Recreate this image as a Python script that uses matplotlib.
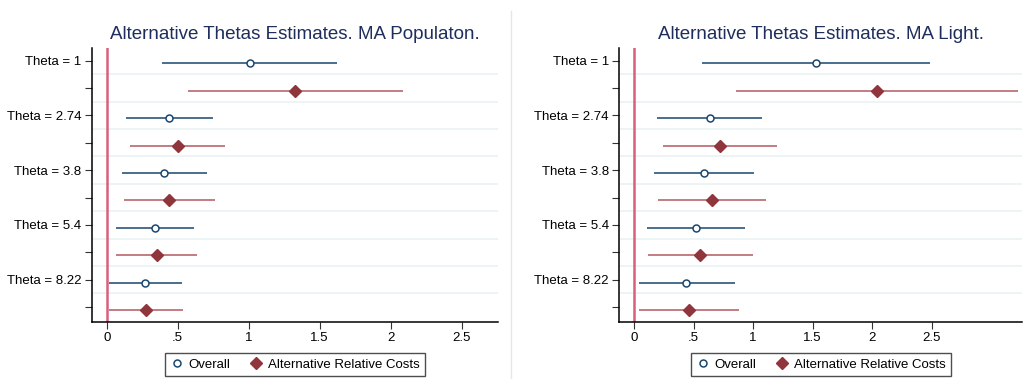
import matplotlib
matplotlib.use("Agg")
import matplotlib.pyplot as plt
from matplotlib.lines import Line2D
import numpy as np

plt.rcParams['font.family'] = ['Liberation Sans', 'DejaVu Sans']

theta_labels = ["Theta = 1", "Theta = 2.74", "Theta = 3.8", "Theta = 5.4", "Theta = 8.22"]

# MA Population: Overall and Alternative Relative Costs (estimate, lower, upper)
pop_overall = [1.009, 0.441, 0.404, 0.340, 0.272]
pop_overall_lo = [0.392, 0.136, 0.110, 0.063, 0.019]
pop_overall_hi = [1.624, 0.751, 0.704, 0.617, 0.533]
pop_arc = [1.326, 0.500, 0.441, 0.352, 0.275]
pop_arc_lo = [0.575, 0.164, 0.124, 0.065, 0.019]
pop_arc_hi = [2.085, 0.833, 0.763, 0.638, 0.535]

# MA Light
light_overall = [1.525, 0.635, 0.588, 0.521, 0.439]
light_overall_lo = [0.568, 0.196, 0.168, 0.106, 0.039]
light_overall_hi = [2.485, 1.077, 1.008, 0.935, 0.845]
light_arc = [2.038, 0.722, 0.652, 0.557, 0.459]
light_arc_lo = [0.854, 0.246, 0.199, 0.120, 0.039]
light_arc_hi = [3.227, 1.204, 1.105, 0.996, 0.879]

navy = "#1a476f"
maroon = "#90353b"
maroon_line = "#b3585f"
refline = "#d9607a"
grid_c = "#eaf2f3"
title_c = "#1e2d5c"

fig = plt.figure(figsize=(10.23, 3.79), dpi=100)
fig.patch.set_facecolor("white")


def panel(ax, title, ov, ov_lo, ov_hi, arc, arc_lo, arc_hi, xmin, xmax):
    n = len(ov)
    y_ov = np.arange(n) * 2 + 0.1
    y_arc = np.arange(n) * 2 + 1.1
    for i in range(9):
        ax.axhline(i + 0.5, color=grid_c, lw=1.2, zorder=0)
    ax.axvline(0, color=refline, lw=1.8, zorder=1)
    ax.hlines(y_ov, ov_lo, ov_hi, color=navy, lw=1.1, zorder=2)
    ax.hlines(y_arc, arc_lo, arc_hi, color=maroon_line, lw=1.1, zorder=2)
    ax.plot(ov, y_ov, "o", ms=5, mfc="white", mec=navy, mew=1.1, ls="none", zorder=3)
    ax.plot(arc, y_arc, "D", ms=6.5, color=maroon, ls="none", zorder=3)

    ax.set_ylim(9.53, -0.47)
    ax.set_xlim(xmin, xmax)
    ax.set_yticks(np.arange(10))
    ylabs = []
    for lab in theta_labels:
        ylabs += [lab, ""]
    ax.set_yticklabels(ylabs, fontsize=9.5)
    ax.set_xticks([0, 0.5, 1, 1.5, 2, 2.5])
    ax.set_xticklabels(["0", ".5", "1", "1.5", "2", "2.5"], fontsize=9.5)
    ax.tick_params(length=5, width=0.8, color="#333333", pad=2.5)
    for s in ["top", "right"]:
        ax.spines[s].set_visible(False)
    for s in ["left", "bottom"]:
        ax.spines[s].set_linewidth(1.1)
    ax.set_title(title, fontsize=13.5, color=title_c, pad=6.5)

    handles = [
        Line2D([], [], marker="o", ls="none", ms=5, mfc="white", mec=navy, mew=1.1),
        Line2D([], [], marker="D", ls="none", ms=6.5, color=maroon),
    ]
    leg = ax.legend(handles, ["Overall", "Alternative Relative Costs"], loc="center",
                    bbox_to_anchor=(0.5, -0.157), ncol=2, fontsize=9.5, frameon=True,
                    fancybox=False, edgecolor="#222222", handlelength=1.0,
                    handletextpad=0.4, columnspacing=1.4, borderpad=0.4)
    leg.get_frame().set_linewidth(1.0)


ax1 = fig.add_axes([0.0896, 0.1512, 0.3972, 0.7229])
panel(ax1, "Alternative Thetas Estimates. MA Populaton.",
      pop_overall, pop_overall_lo, pop_overall_hi, pop_arc, pop_arc_lo, pop_arc_hi, -0.106, 2.756)

ax2 = fig.add_axes([0.6054, 0.1512, 0.394, 0.7229])
panel(ax2, "Alternative Thetas Estimates. MA Light.",
      light_overall, light_overall_lo, light_overall_hi, light_arc, light_arc_lo, light_arc_hi, -0.123, 3.26)

fig.add_artist(Line2D([0.4995, 0.4995], [0.0, 0.97], transform=fig.transFigure,
                      color="#e6e6e6", lw=1))

fig.savefig("out.png", dpi=100, facecolor="white")
